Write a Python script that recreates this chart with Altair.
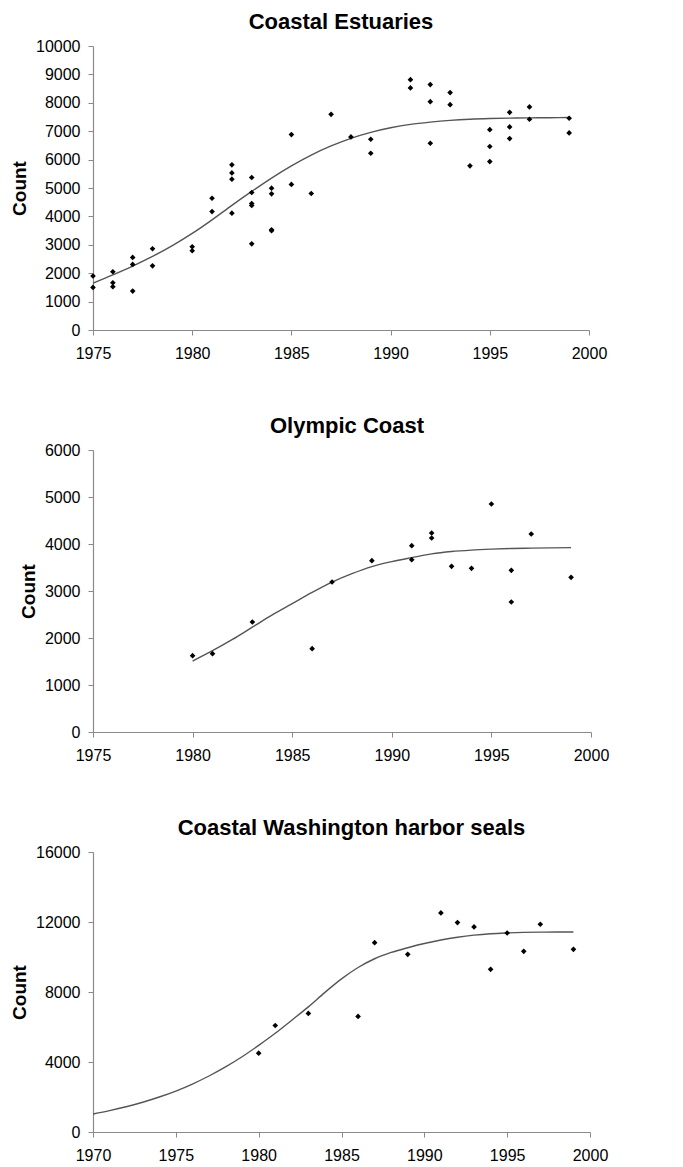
import altair as alt
import pandas as pd

# ---------------- Panel 1: Coastal Estuaries ----------------
est_title = "Coastal Estuaries"
est_years = [1975, 1975, 1976, 1976, 1976, 1977, 1977, 1977, 1978, 1978,
             1980, 1980, 1981, 1981, 1982, 1982, 1982, 1982,
             1983, 1983, 1983, 1983, 1983, 1984, 1984, 1984, 1984,
             1985, 1985, 1986, 1987, 1988, 1989, 1989, 1991, 1991,
             1992, 1992, 1992, 1993, 1993, 1994, 1995, 1995, 1995,
             1996, 1996, 1996, 1997, 1997, 1999, 1999]
est_counts = [1900, 1500, 2050, 1665, 1525, 2555, 2310, 1370, 2860, 2260,
              2930, 2790, 4640, 4170, 5815, 5530, 5310, 4115,
              5370, 4840, 4455, 4385, 3035, 4995, 4795, 3530, 3495,
              6880, 5125, 4805, 7595, 6800, 6715, 6225, 8815, 8525,
              8640, 8040, 6575, 8360, 7935, 5780, 7055, 6460, 5930,
              7665, 7150, 6740, 7855, 7420, 7455, 6940]
est_fit_years = list(range(1975, 2000))
est_fit = [1650, 1940, 2250, 2590, 2970, 3400, 3880, 4390, 4880, 5350,
           5780, 6160, 6480, 6750, 6960, 7120, 7240, 7320, 7380, 7420,
           7445, 7460, 7470, 7476, 7480]
est_xticks = [1975, 1980, 1985, 1990, 1995, 2000]
est_yticks = [0, 1000, 2000, 3000, 4000, 5000, 6000, 7000, 8000, 9000, 10000]

# ---------------- Panel 2: Olympic Coast ----------------
oly_title = "Olympic Coast"
oly_years = [1980, 1981, 1983, 1986, 1987, 1989, 1991, 1991, 1992, 1992,
             1993, 1994, 1995, 1996, 1996, 1997, 1999]
oly_counts = [1624, 1667, 2340, 1773, 3191, 3645, 3965, 3667, 4234, 4128,
              3525, 3482, 4851, 3440, 2766, 4213, 3291]
oly_fit_years = list(range(1980, 2000))
oly_fit = [1510, 1730, 1970, 2230, 2490, 2730, 2970, 3190, 3370, 3520,
           3625, 3710, 3790, 3840, 3870, 3890, 3905, 3912, 3918, 3922]
oly_xticks = [1975, 1980, 1985, 1990, 1995, 2000]
oly_yticks = [0, 1000, 2000, 3000, 4000, 5000, 6000]

# ---------------- Panel 3: Coastal Washington harbor seals ----------------
wa_title = "Coastal Washington harbor seals"
wa_years = [1980, 1981, 1983, 1986, 1987, 1989, 1991, 1992, 1993, 1994,
            1995, 1996, 1997, 1999]
wa_counts = [4504, 6088, 6775, 6603, 10821, 10153, 12519, 11966, 11718, 9294,
             11374, 10324, 11870, 10439]
wa_fit_years = list(range(1970, 2000))
wa_fit = [1030, 1220, 1440, 1700, 2000, 2340, 2740, 3200, 3720, 4300,
          4950, 5640, 6390, 7150, 7980, 8750, 9400, 9900, 10260, 10530,
          10770, 10970, 11130, 11250, 11330, 11375, 11405, 11420, 11428, 11432]
wa_xticks = [1970, 1975, 1980, 1985, 1990, 1995, 2000]
wa_yticks = [0, 4000, 8000, 12000, 16000]

FONT = "Liberation Sans"


def panel(title, years, counts, fit_years, fit, xticks, yticks, w, h, dx):
    pts = pd.DataFrame({"Year": years, "Count": counts})
    fitdf = pd.DataFrame({"Year": fit_years, "Count": fit})
    x = alt.X("Year:Q",
              scale=alt.Scale(domain=[xticks[0], xticks[-1]], nice=False, zero=False),
              axis=alt.Axis(values=xticks, format="d", title=None, labelFlush=False,
                            labelOverlap=False))
    y = alt.Y("Count:Q",
              scale=alt.Scale(domain=[yticks[0], yticks[-1]], nice=False),
              axis=alt.Axis(values=yticks, format="d", title="Count", labelOverlap=False))
    line = alt.Chart(fitdf).mark_line(color="#555555", strokeWidth=1.4,
                                      interpolate="monotone").encode(x=x, y=y)
    dots = alt.Chart(pts).mark_point(shape="diamond", filled=True, color="black",
                                     size=32, opacity=1).encode(x=x, y=y)
    return alt.layer(line, dots).properties(
        width=w, height=h,
        title=alt.TitleParams(title, fontSize=22, fontWeight="bold", font=FONT,
                              anchor="middle", offset=4, dx=dx, color="black"))


p1 = panel(est_title, est_years, est_counts, est_fit_years, est_fit,
           est_xticks, est_yticks, 496, 284, 0)
p2 = panel(oly_title, oly_years, oly_counts, oly_fit_years, oly_fit,
           oly_xticks, oly_yticks, 498, 282, 5)
p3 = panel(wa_title, wa_years, wa_counts, wa_fit_years, wa_fit,
           wa_xticks, wa_yticks, 497, 280, 10)

chart = alt.vconcat(p1, p2, p3, spacing=54).properties(
    padding={"left": 2, "top": 3, "right": 5, "bottom": 0}
).configure_view(stroke=None).configure_axis(
    grid=False,
    domainColor="#8a8a8a",
    tickColor="#8a8a8a",
    domainWidth=1.2,
    tickSize=5,
    labelFont=FONT,
    labelFontSize=16,
    labelColor="black",
    titleFont=FONT,
    titleFontSize=19,
    titleFontWeight="bold",
    titleColor="black",
    titlePadding=6,
).configure_axisX(labelPadding=10).configure_axisY(labelPadding=8)

chart.save("out.html", embed_options={"renderer": "svg", "actions": False})
